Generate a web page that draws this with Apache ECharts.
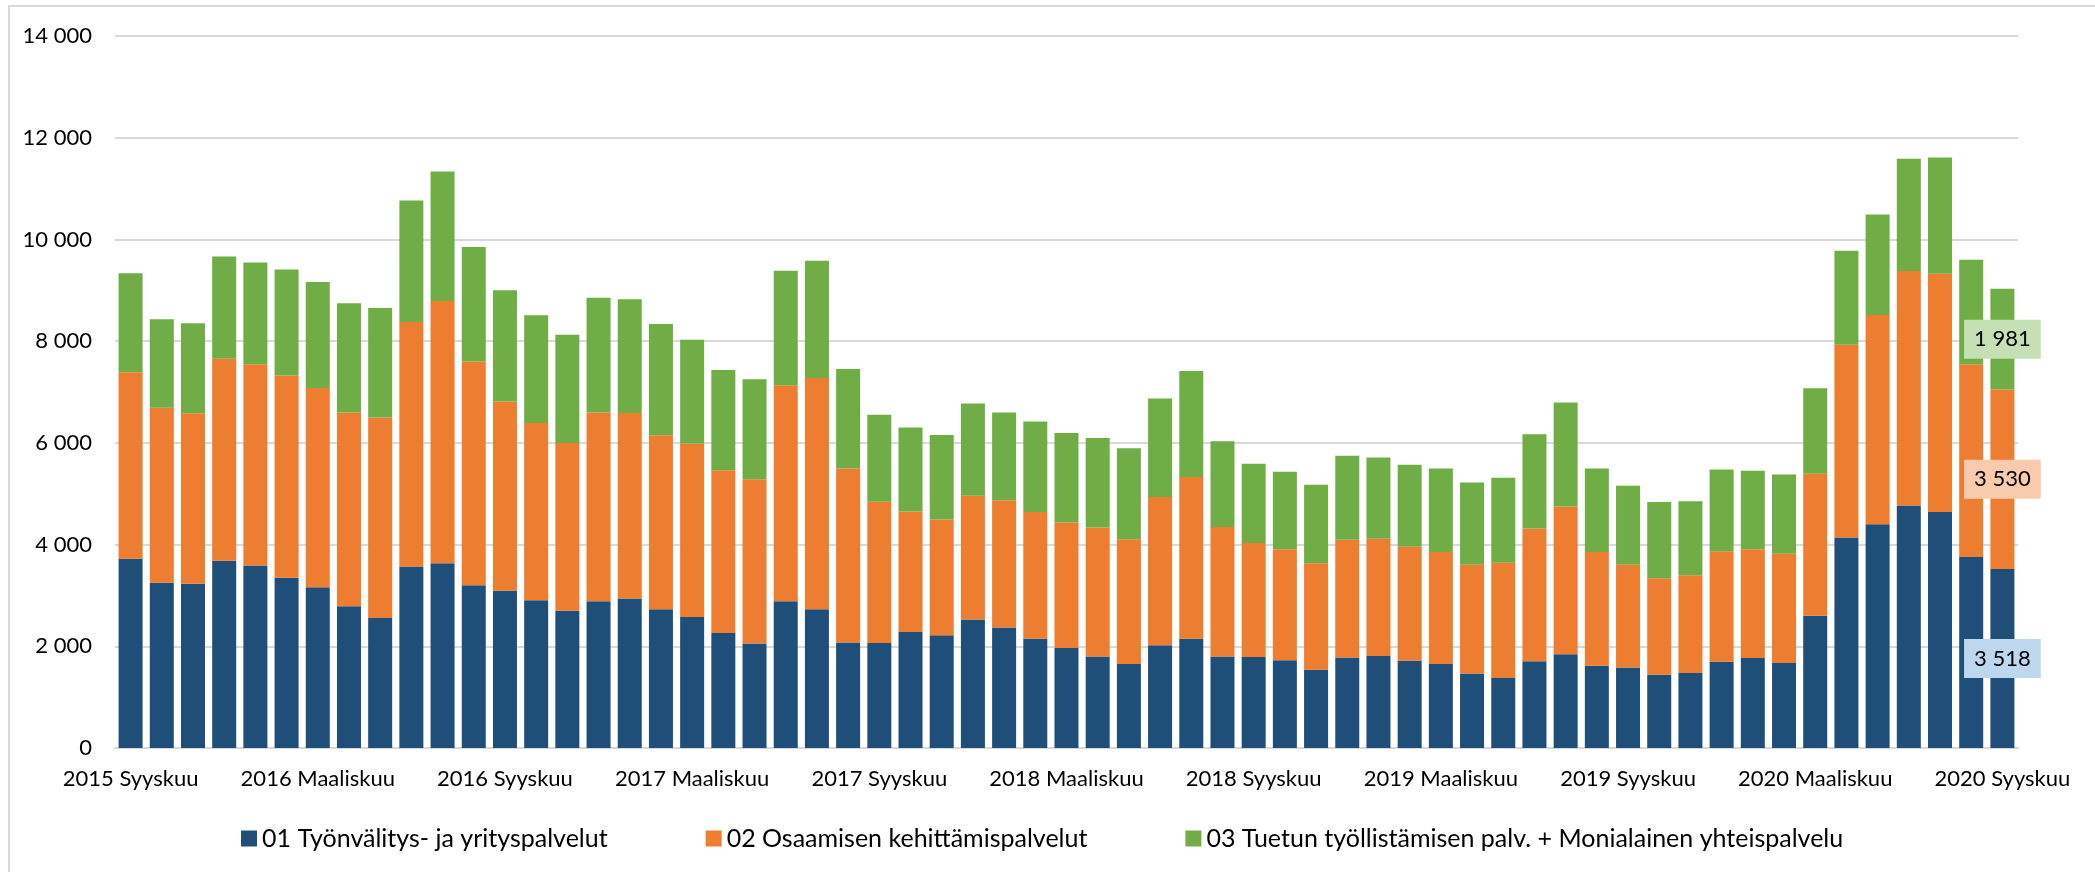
<!DOCTYPE html>
<html>
<head>
<meta charset="utf-8">
<title>Palvelut</title>
<script src="https://cdn.jsdelivr.net/npm/echarts@6/dist/echarts.min.js"></script>
<style>
  html, body { margin: 0; padding: 0; background: #fff; }
  #chart { width: 2095px; height: 872px; }
</style>
</head>
<body>
<div id="chart"></div>
<script>
// kuukaudet 2015 syyskuu - 2020 syyskuu
var monthNames = ['Tammikuu', 'Helmikuu', 'Maaliskuu', 'Huhtikuu', 'Toukokuu', 'Kesäkuu',
  'Heinäkuu', 'Elokuu', 'Syyskuu', 'Lokakuu', 'Marraskuu', 'Joulukuu']
var categories = []
for (var i = 0; i < 61; i++) {
  var m = 8 + i
  categories.push((2015 + Math.floor(m / 12)) + ' ' + monthNames[m % 12])
}

var seriesNames = [
  '01 Työnvälitys- ja yrityspalvelut',
  '02 Osaamisen kehittämispalvelut',
  '03 Tuetun työllistämisen palv. + Monialainen yhteispalvelu'
]

var tyonvalitys = [3720, 3250, 3230, 3680, 3590, 3350, 3160, 2785, 2555, 3570,
  3635, 3200, 3090, 2905, 2700, 2885, 2940, 2730, 2575, 2260,
  2055, 2885, 2730, 2075, 2065, 2280, 2215, 2525, 2370, 2150,
  1965, 1800, 1650, 2020, 2150, 1800, 1790, 1725, 1540, 1780,
  1810, 1715, 1650, 1465, 1375, 1705, 1845, 1615, 1585, 1440,
  1475, 1695, 1770, 1670, 2600, 4140, 4400, 4770, 4640, 3755, 3518]

var osaaminen = [3670, 3440, 3350, 3975, 3955, 3975, 3920, 3810, 3945, 4805,
  5155, 4400, 3725, 3485, 3295, 3710, 3645, 3420, 3410, 3200,
  3230, 4250, 4545, 3420, 2775, 2370, 2280, 2435, 2500, 2490,
  2470, 2535, 2455, 2915, 3180, 2545, 2240, 2185, 2095, 2315,
  2305, 2240, 2205, 2140, 2270, 2610, 2905, 2240, 2020, 1900,
  1920, 2175, 2140, 2150, 2795, 3790, 4115, 4610, 4685, 3790, 3530]

var tuettu = [1945, 1740, 1770, 2010, 2000, 2085, 2085, 2150, 2150, 2390,
  2545, 2250, 2185, 2120, 2130, 2260, 2240, 2185, 2040, 1975,
  1965, 2250, 2305, 1955, 1715, 1650, 1660, 1815, 1725, 1780,
  1760, 1760, 1790, 1935, 2085, 1685, 1560, 1520, 1540, 1650,
  1595, 1615, 1640, 1615, 1670, 1855, 2045, 1640, 1550, 1495,
  1455, 1605, 1540, 1560, 1680, 1845, 1975, 2205, 2285, 2055, 1981]

var yTicks = [0, 2000, 4000, 6000, 8000, 10000, 12000, 14000]

var colors = ['#1F4E79', '#ED7D31', '#70AD47']
var labelBg = ['#BDD7EE', '#F8CBAD', '#C5E0B4']
var fontFamily = 'Lato, "Open Sans", sans-serif'

function fmt(v) {
  return String(v).replace(/\B(?=(\d{3})+(?!\d))/g, ' ')
}

// vain viimeiselle pylväälle arvolaatikko
function withLastLabel(values, idx) {
  return values.map(function(v, i) {
    if (i !== values.length - 1) return v
    return {
      value: v,
      label: {
        show: true,
        position: 'inside',
        formatter: function(p) { return fmt(p.value) },
        backgroundColor: labelBg[idx],
        padding: [9, 10, 8, 10],
        color: '#000',
        fontFamily: fontFamily,
        fontSize: 22
      }
    }
  })
}

var chart = echarts.init(document.getElementById('chart'))
chart.setOption({
  animation: false,
  color: colors,
  graphic: [{
    type: 'rect',
    shape: { x: 9, y: 6, width: 2200, height: 1000 },
    style: { fill: 'none', stroke: '#D9D9D9', lineWidth: 2 },
    silent: true
  }],
  grid: {
    left: 115,
    right: 77,
    top: 36,
    bottom: 124
  },
  legend: {
    data: seriesNames,
    left: 241,
    top: 826,
    padding: 0,
    itemWidth: 16,
    itemHeight: 16,
    itemGap: 98,
    icon: 'rect',
    textStyle: {
      fontFamily: fontFamily,
      fontSize: 25,
      color: '#000',
      lineHeight: 20
    }
  },
  xAxis: {
    type: 'category',
    data: categories,
    axisTick: { show: false },
    axisLine: { lineStyle: { color: '#D9D9D9', width: 2 } },
    axisLabel: {
      interval: 5,
      margin: 20,
      color: '#000',
      fontFamily: fontFamily,
      fontSize: 22
    }
  },
  yAxis: {
    type: 'value',
    min: yTicks[0],
    max: yTicks[yTicks.length - 1],
    interval: yTicks[1] - yTicks[0],
    axisLine: { show: false },
    axisTick: { show: false },
    splitLine: { lineStyle: { color: '#D9D9D9', width: 2 } },
    axisLabel: {
      margin: 23,
      color: '#000',
      fontFamily: fontFamily,
      fontSize: 22,
      formatter: fmt
    }
  },
  series: [
    { name: seriesNames[0], type: 'bar', stack: 'all', barWidth: 24, data: withLastLabel(tyonvalitys, 0) },
    { name: seriesNames[1], type: 'bar', stack: 'all', barWidth: 24, data: withLastLabel(osaaminen, 1) },
    { name: seriesNames[2], type: 'bar', stack: 'all', barWidth: 24, data: withLastLabel(tuettu, 2) }
  ]
})
</script>
</body>
</html>
